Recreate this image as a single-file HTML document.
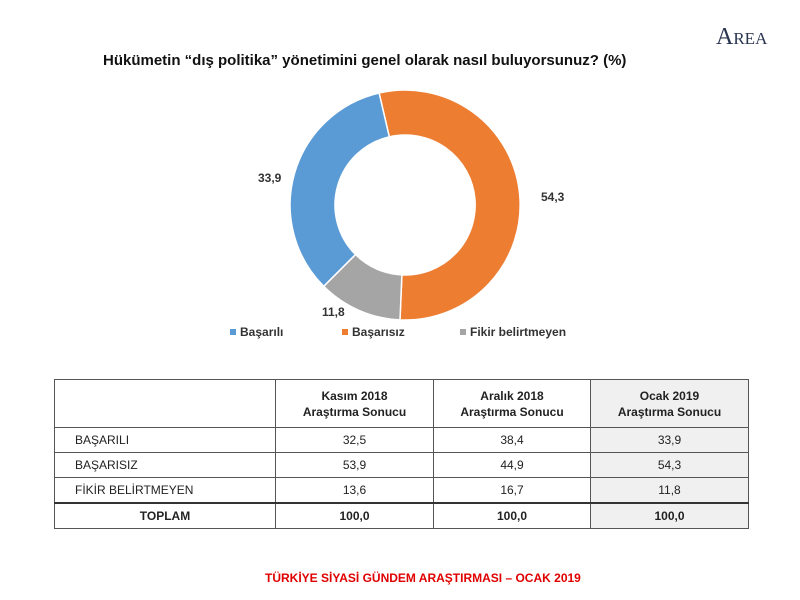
<!DOCTYPE html>
<html><head><meta charset="utf-8"><style>
body{margin:0;width:800px;height:600px;background:#fff;font-family:"Liberation Sans",sans-serif;position:relative;overflow:hidden}
.t{position:absolute;white-space:nowrap}
table{position:absolute;left:54px;top:379px;border-collapse:collapse;font-size:12px;color:#222}
td{border:1px solid #555;text-align:center;padding:0}
td.l{text-align:left;padding-left:20px}
.h td{height:47px;font-weight:bold;line-height:16px}
.r td{height:24px}
.g{background:#f0f0f0}
.tot td{font-weight:bold;border-top:2px solid #333}
</style></head><body>
<div class="t" style="left:103px;top:52px;font-size:15px;font-weight:bold;color:#111">Hükümetin “dış politika” yönetimini genel olarak nasıl buluyorsunuz? (%)</div>
<div class="t" style="left:716px;top:24px;font-family:'Liberation Serif',serif;font-size:17px;color:#2a3550"><span style="font-size:24px">A</span>REA</div>
<svg style="position:absolute;left:0;top:0" width="800" height="600">
<path d="M379.1,93 A115,115 0 1 1 400,319.9 L401.9,274.9 A70,70 0 1 0 389.3,136.8 Z" fill="#ed7d31" stroke="#fff" stroke-width="1.5"/>
<path d="M400,319.9 A115,115 0 0 1 323.7,286.3 L355.5,254.5 A70,70 0 0 0 401.9,274.9 Z" fill="#a5a5a5" stroke="#fff" stroke-width="1.5"/>
<path d="M323.7,286.3 A115,115 0 0 1 379.1,93 L389.3,136.8 A70,70 0 0 0 355.5,254.5 Z" fill="#5b9bd5" stroke="#fff" stroke-width="1.5"/>
<g font-size="12" font-weight="bold" fill="#333" font-family="Liberation Sans">
<text x="541" y="201">54,3</text><text x="258" y="182">33,9</text><text x="322" y="316">11,8</text>
<rect x="230" y="329" width="6" height="6" fill="#5b9bd5"/><text x="240" y="336">Başarılı</text>
<rect x="342" y="329" width="6" height="6" fill="#ed7d31"/><text x="352" y="336">Başarısız</text>
<rect x="460" y="329" width="6" height="6" fill="#a5a5a5"/><text x="470" y="336">Fikir belirtmeyen</text>
</g></svg>
<table>
<tr class="h"><td style="width:220px"></td><td style="width:157px">Kasım 2018<br>Araştırma Sonucu</td><td style="width:156px">Aralık 2018<br>Araştırma Sonucu</td><td class="g" style="width:157px">Ocak 2019<br>Araştırma Sonucu</td></tr>
<tr class="r"><td class="l">BAŞARILI</td><td>32,5</td><td>38,4</td><td class="g">33,9</td></tr>
<tr class="r"><td class="l">BAŞARISIZ</td><td>53,9</td><td>44,9</td><td class="g">54,3</td></tr>
<tr class="r"><td class="l">FİKİR BELİRTMEYEN</td><td>13,6</td><td>16,7</td><td class="g">11,8</td></tr>
<tr class="r tot"><td>TOPLAM</td><td>100,0</td><td>100,0</td><td class="g">100,0</td></tr>
</table>
<div class="t" style="left:265px;top:571px;font-size:12px;font-weight:bold;color:#e00000">TÜRKİYE SİYASİ GÜNDEM ARAŞTIRMASI – OCAK 2019</div>
</body></html>
